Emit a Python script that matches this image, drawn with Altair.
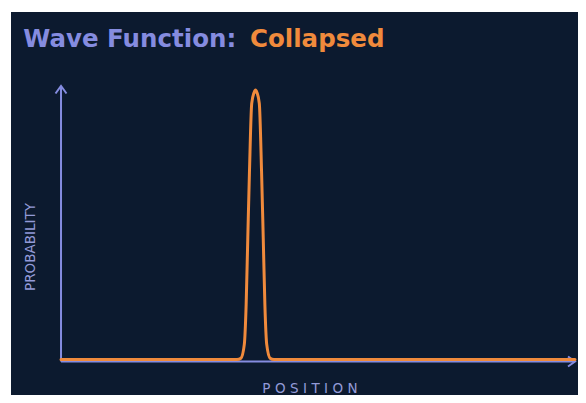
import altair as alt
import pandas as pd

# Curve (position units: 0..100 along the x axis, probability: peak = 1)
position = [0, 34.24, 35.00, 35.66, 36.02, 36.34, 36.67, 37.10, 37.55, 37.84,
            38.13, 38.58, 39.01, 39.34, 39.66, 40.02, 40.68, 41.44, 100]
probability = [0, 0, 0.005, 0.056, 0.205, 0.453, 0.701, 0.95, 0.99, 1.0,
               0.99, 0.95, 0.701, 0.453, 0.205, 0.056, 0.005, 0, 0]

title_left = "Wave Function:"
title_right = "Collapsed"
x_label = "P\u2004O\u2004S\u2004I\u2004T\u2004I\u2004O\u2004N"
y_label = "PROBABILITY"

BG = "#0c1a2f"
LAV = "#858ce0"
LAV_TXT = "#939ad8"
ORANGE = "#f08a3c"

xs = alt.Scale(domain=[-9.73, 100.58], nice=False, zero=False)
ys = alt.Scale(domain=[-0.1317, 1.2894], nice=False, zero=False)

curve = pd.DataFrame({"x": position, "y": probability})
axes = pd.DataFrame({
    "x": [0, 0], "y": [-0.0074, -0.0074],
    "x2": [0, 100], "y2": [1.0148, -0.0074],
})
arrow_up = pd.DataFrame({"x": [0], "y": [1.0148]})
arrow_right = pd.DataFrame({"x": [100], "y": [-0.0074]})

X = lambda f: alt.X(f, type="quantitative", scale=xs, axis=None)
Y = lambda f: alt.Y(f, type="quantitative", scale=ys, axis=None)

axis_lines = alt.Chart(axes).mark_rule(color=LAV, strokeWidth=2).encode(
    x=X("x"), y=Y("y"), x2="x2", y2="y2")

up = alt.Chart(arrow_up).mark_point(
    shape="M-1,1.36L0,0L1,1.36", filled=False, color=LAV, strokeWidth=2,
    size=121, opacity=1).encode(x=X("x"), y=Y("y"))
right = alt.Chart(arrow_right).mark_point(
    shape="M-1.4,-1L0,0L-1.4,1", filled=False, color=LAV, strokeWidth=2,
    size=100, opacity=1).encode(x=X("x"), y=Y("y"))

line = alt.Chart(curve).mark_line(
    color=ORANGE, strokeWidth=3, interpolate="monotone",
    strokeJoin="round", strokeCap="round").encode(x=X("x"), y=Y("y"))

TFONT = "DejaVu Sans"
t1 = alt.Chart(pd.DataFrame({"t": [title_left]})).mark_text(
    align="left", baseline="alphabetic", font=TFONT, fontWeight="bold",
    fontSize=24.5, color=LAV).encode(
    x=alt.value(12.3), y=alt.value(34.7), text="t:N")
t2 = alt.Chart(pd.DataFrame({"t": [title_right]})).mark_text(
    align="left", baseline="alphabetic", font=TFONT, fontWeight="bold",
    fontSize=24.5, color=ORANGE).encode(
    x=alt.value(239), y=alt.value(34.7), text="t:N")
xl = alt.Chart(pd.DataFrame({"t": [x_label]})).mark_text(
    align="center", baseline="alphabetic", font="DejaVu Sans", fontSize=13.5,
    color=LAV_TXT).encode(x=alt.value(299), y=alt.value(381), text="t:N")
yl = alt.Chart(pd.DataFrame({"t": [y_label]})).mark_text(
    align="center", baseline="middle", font="DejaVu Sans", fontSize=13.5,
    angle=270, color=LAV_TXT).encode(
    x=alt.value(19.5), y=alt.value(235), text="t:N")

chart = alt.layer(axis_lines, up, right, line, t1, t2, xl, yl).properties(
    width=567, height=383,
    padding={"left": 3, "top": 4, "right": 0, "bottom": 0},
    autosize=alt.AutoSizeParams(type="none"),
    background="white",
).configure_view(fill=BG, stroke=None)

chart.save("out.html", embed_options={"renderer": "svg", "actions": False})
